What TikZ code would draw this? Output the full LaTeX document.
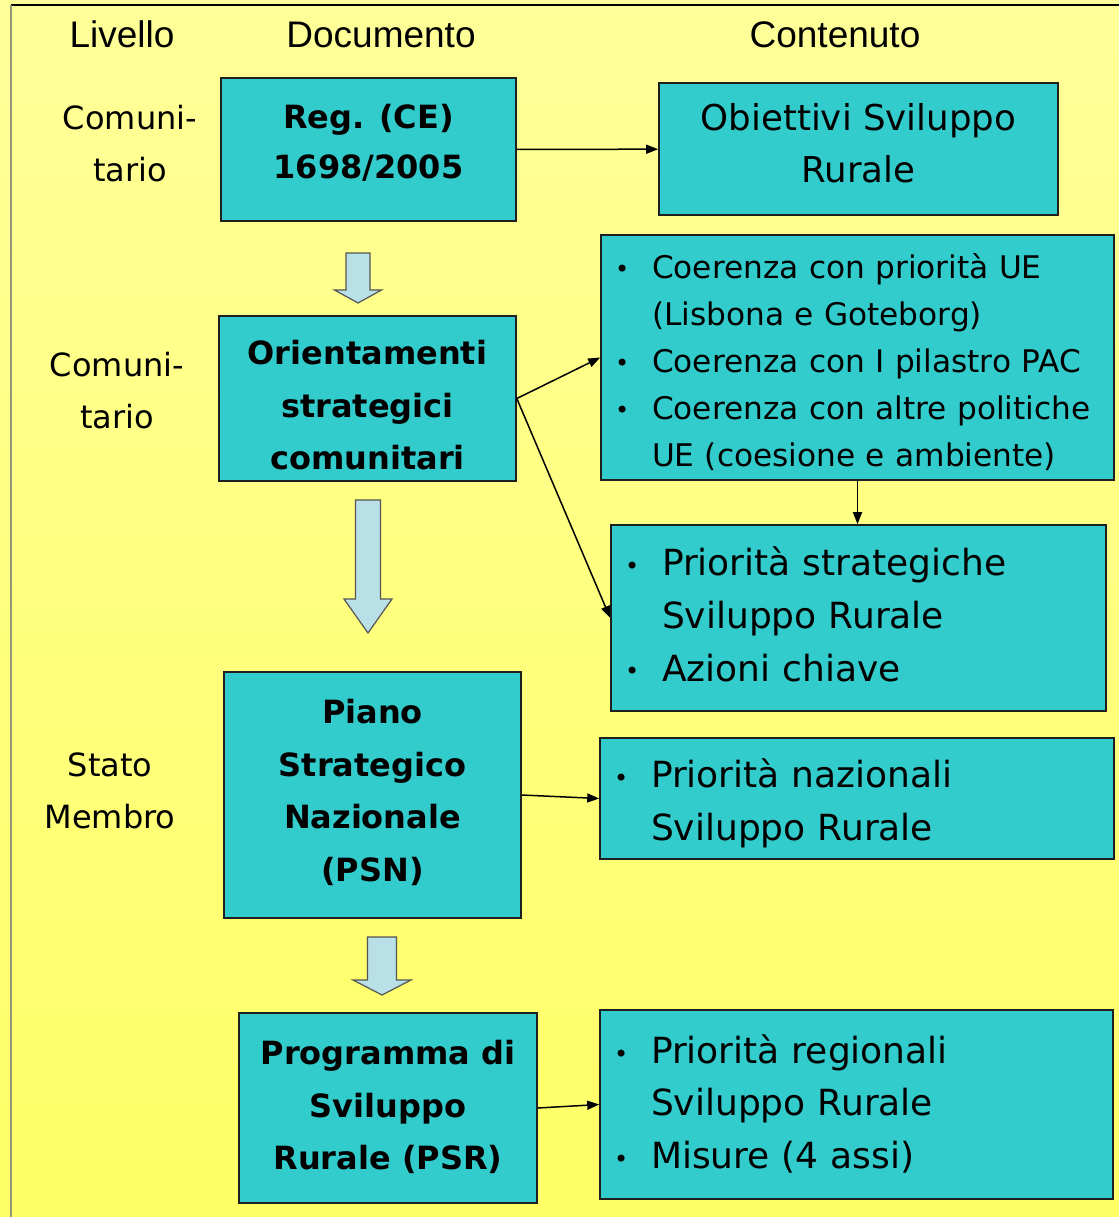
\documentclass[tikz,border=0pt]{standalone}
\usepackage{fontspec}
\setmainfont{DejaVu Sans}
\newfontfamily\headfont{Liberation Sans}
\usetikzlibrary{arrows.meta, positioning, calc}
\definecolor{boxteal}{RGB}{51, 204, 204}
\definecolor{boxline}{RGB}{31, 31, 31}
\definecolor{arrowblue}{RGB}{185, 224, 230}
\definecolor{arrowline}{RGB}{85, 85, 85}
\definecolor{bgtop}{RGB}{255, 255, 153}
\definecolor{bgmid}{RGB}{255, 255, 226}
\definecolor{bgbot}{RGB}{255, 255, 102}
\definecolor{edgegray}{RGB}{150, 150, 120}
\newcommand{\bul}{\makebox[18.5pt][l]{\raisebox{0.6pt}{\fontsize{12pt}{12pt}\selectfont\textbullet}}}
\newcommand{\ind}{\hspace*{18.5pt}}
% struts to nudge text inside a box: \lift on the last line, \drop on the first
\newcommand{\lift}[1]{\rule[-#1]{0pt}{#1}}
\newcommand{\drop}[1]{\rule{0pt}{#1}}

\begin{document}
\begin{tikzpicture}[
    x=0.5pt, y=-0.5pt,
    docbox/.style={draw=boxline, fill=boxteal, line width=0.8pt, inner sep=0pt, align=center, font=\fontsize{16pt}{26.3pt}\selectfont\bfseries},
    contbox/.style={draw=boxline, fill=boxteal, line width=0.8pt, inner sep=0pt, align=center, font=\fontsize{17.8pt}{26pt}\selectfont},
    listbox/.style={draw=boxline, fill=boxteal, line width=0.8pt, inner xsep=7pt, inner ysep=0pt, align=left, text width=#1, font=\fontsize{18pt}{26.3pt}\selectfont},
    levlabel/.style={align=center, font=\fontsize{16pt}{26pt}\selectfont},
    header/.style={anchor=base, font=\headfont\fontsize{18.5pt}{22pt}\selectfont},
    blockarrow/.style={draw=arrowline, fill=arrowblue, line width=0.6pt},
    arrow/.style={-{Triangle[length=6pt, width=4.5pt]}, line width=0.75pt}
]

% Background and frame
\useasboundingbox (0,0) rectangle (1119,1217);
\shade[top color=bgtop, middle color=bgmid, bottom color=bgbot] (0,0) rectangle (1119,1217);
\draw[line width=1pt, black] (11,5) -- (1119,5);
\draw[line width=0.8pt, edgegray] (11,5) -- (11,1217);

% Column headers
\node (h_liv) [header] at (122,47) {Livello};
\node (h_doc) [header] at (381,47) {Documento};
\node (h_cont) [header] at (835,47) {Contenuto};

% Levels
\node (lev1) [levlabel] at (130,144) {Comuni-\\tario};
\node (lev2) [levlabel] at (117,391) {Comuni-\\tario};
\node (lev3) [levlabel] at (110,791) {Stato\\Membro};

% Documents
\node (reg) [docbox, minimum width=147.5pt, minimum height=71.5pt, font=\fontsize{16pt}{25pt}\selectfont\bfseries] at (368.5,149.5)
    {Reg. (CE)\\1698/2005\lift{8.5pt}};
\node (orient) [docbox, minimum width=148.5pt, minimum height=82.5pt] at (367.5,398.5)
    {\drop{19pt}Orientamenti\\strategici\\comunitari};
\node (psn) [docbox, minimum width=148.5pt, minimum height=123pt] at (372.5,795)
    {Piano\\Strategico\\Nazionale\\(PSN)\lift{4.5pt}};
\node (psr) [docbox, minimum width=149pt, minimum height=95pt] at (388,1108)
    {Programma di\\Sviluppo\\Rurale (PSR)\lift{3pt}};

% Contents
\node (obiettivi) [contbox, minimum width=199.5pt, minimum height=66pt] at (858.5,149)
    {Obiettivi Sviluppo\\Rurale\lift{6pt}};
\node (coerenza) [listbox=242.5pt, minimum height=122.5pt, font=\fontsize{15.6pt}{23.5pt}\selectfont] at (857.5,357.5)
    {\drop{17.5pt}\bul Coerenza con priorità UE\\\ind (Lisbona e Goteborg)\\\bul Coerenza con I pilastro PAC\\\bul Coerenza con altre politiche\\\ind UE (coesione e ambiente)};
\node (strat) [listbox=233.5pt, minimum height=93pt] at (858.5,618)
    {\bul Priorità strategiche\\\ind Sviluppo Rurale\\\bul Azioni chiave\lift{4pt}};
\node (naz) [listbox=243pt, minimum height=60.5pt] at (857,798.5)
    {\drop{19pt}\bul Priorità nazionali\\\ind Sviluppo Rurale};
\node (regl) [listbox=242.5pt, minimum height=94.5pt] at (856.5,1104.5)
    {\bul Priorità regionali\\\ind Sviluppo Rurale\\\bul Misure (4 assi)\lift{3pt}};

% Block arrows between documents
\foreach \xc/\yt/\yh/\yp/\sw/\hw in {358/253/290/303/12/23.5, 368/500/599/633/12.5/24, 382/937/980/995/14.5/29}
    \draw[blockarrow] (\xc-\sw,\yt) -- (\xc+\sw,\yt) -- (\xc+\sw,\yh) -- (\xc+\hw,\yh) -- (\xc,\yp)
        -- (\xc-\hw,\yh) -- (\xc-\sw,\yh) -- cycle;

% Arrows
\draw [arrow] (reg) -- (obiettivi);
\draw [arrow] (orient.east) -- (coerenza.west);
\draw [arrow] (orient.east) -- (strat.west);
\draw [arrow] (coerenza.south) -- (coerenza.south |- strat.north);
\draw [arrow] (psn.east) -- (naz.west);
\draw [arrow] (psr.east) -- (regl.west);

\end{tikzpicture}
\end{document}
